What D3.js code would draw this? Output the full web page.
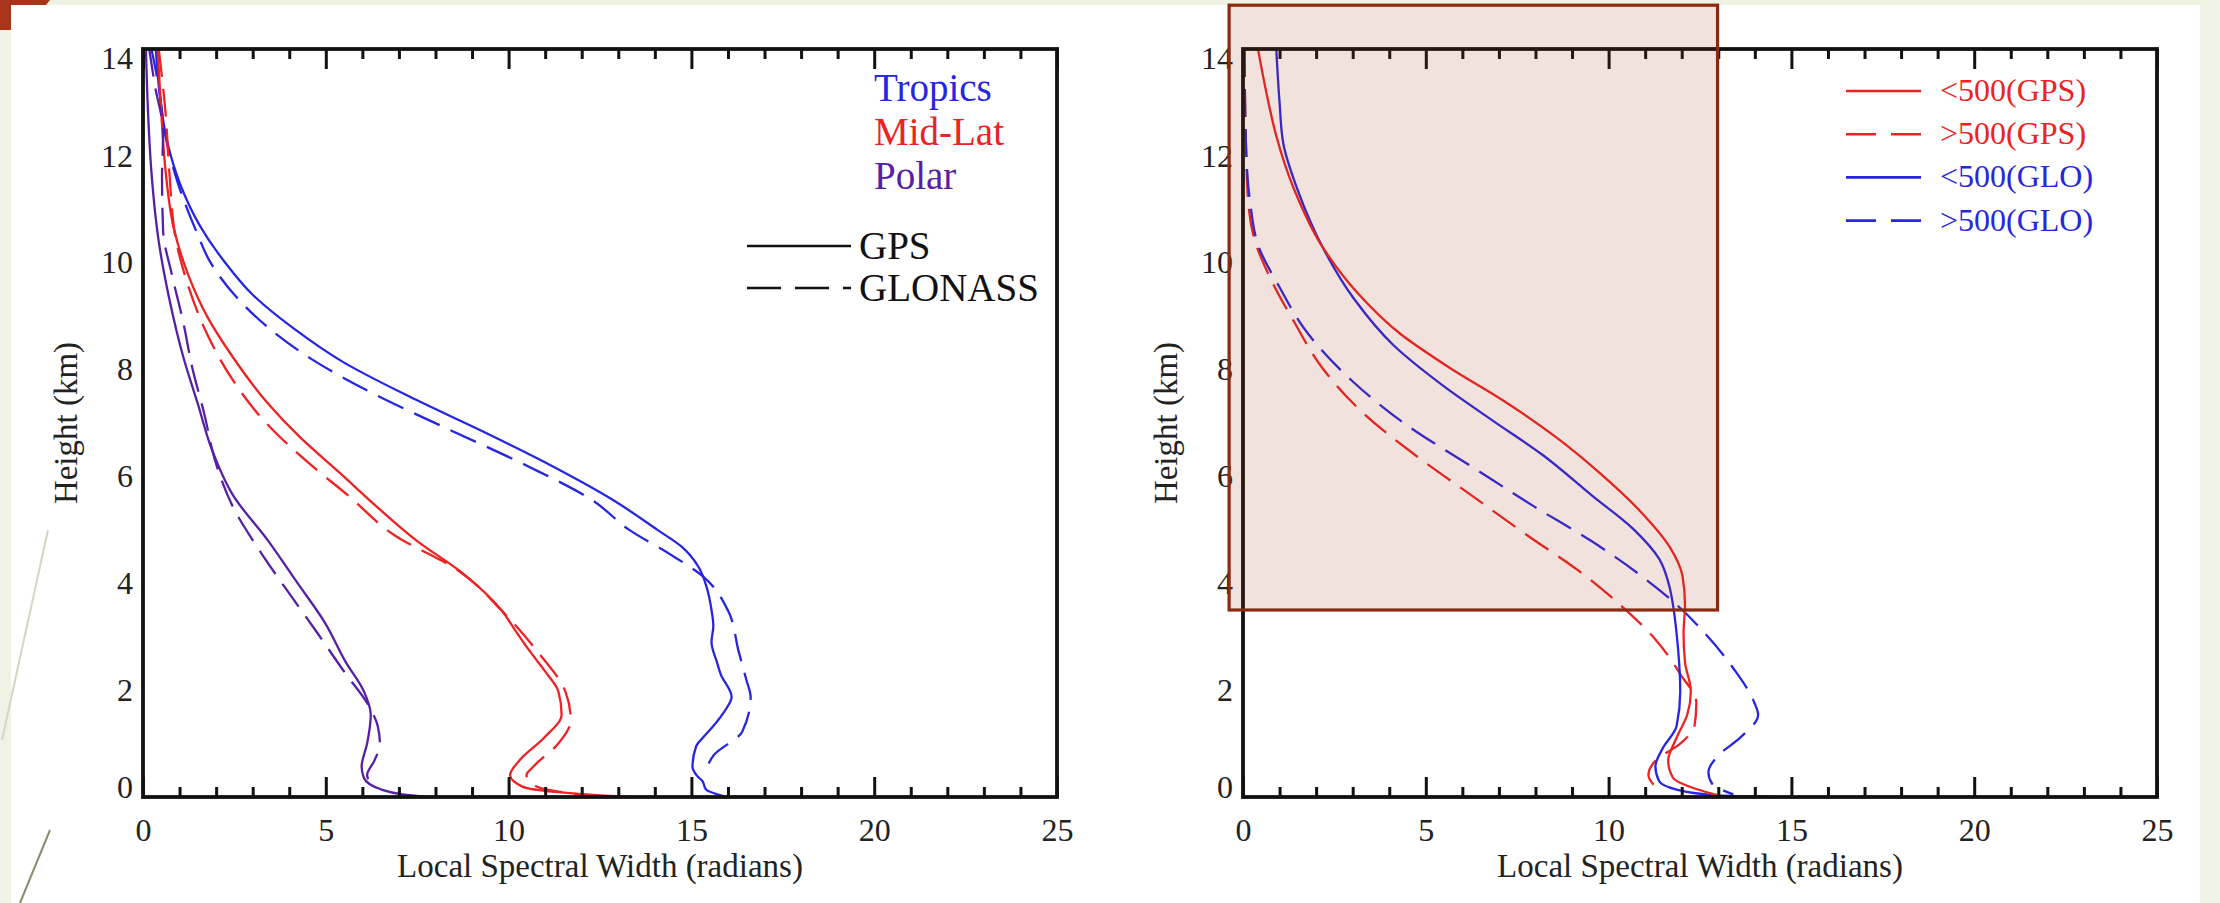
<!DOCTYPE html>
<html>
<head>
<meta charset="utf-8">
<script src="https://cdn.jsdelivr.net/npm/d3@7"></script>
<style>
  html, body { margin: 0; padding: 0; background: #eef3e3; }
  svg { display: block; }
  text { font-family: "Liberation Serif", "Times New Roman", serif; }
</style>
</head>
<body>
<svg id="fig" width="2220" height="903"></svg>
<script>
// ---------- axis definitions ----------
const xDomain = [0, 25];
const yDomain = [0, 14];
const xTickValues = [0, 5, 10, 15, 20, 25];
const xMinorValues = d3.range(0, 26).filter(v => v % 5 !== 0);
const yTickValues = [0, 2, 4, 6, 8, 10, 12, 14];
const xTitle = "Local Spectral Width (radians)";
const yTitle = "Height (km)";

// ---------- left panel: profiles by latitude band, [width, height km] ----------
const tropicsGPS = [[0.35,14],[0.45,13.2],[0.65,12.3],[1.0,11.5],[1.55,10.7],[2.25,10.0],[3.0,9.4],[4.1,8.78],[5.5,8.13],[7.3,7.49],[9.3,6.84],[11.2,6.19],[12.9,5.54],[14.07,5.0],[14.74,4.68],[15.2,4.3],[15.42,3.92],[15.55,3.5],[15.6,3.2],[15.55,2.9],[15.7,2.52],[15.8,2.3],[16.1,1.87],[15.9,1.6],[15.6,1.33],[15.3,1.1],[15.13,0.95],[15.03,0.57],[15.15,0.4],[15.3,0.3],[15.4,0.14],[15.9,0.01]];
const tropicsGLO = [[0.23,14],[0.43,13.3],[0.62,12.35],[0.95,11.5],[1.45,10.6],[1.85,10.0],[2.5,9.4],[3.4,8.8],[4.6,8.2],[6.3,7.55],[8.3,6.9],[10.5,6.2],[12.3,5.55],[13.3,5.0],[14.4,4.55],[15.3,4.14],[16.0,3.49],[16.29,2.73],[16.5,2.2],[16.62,1.87],[16.39,1.22],[15.62,0.79],[15.45,0.6]];
const midLatGPS = [[0.4,14],[0.5,12.8],[0.62,11.7],[0.85,10.62],[1.25,9.75],[1.75,9.0],[2.45,8.24],[3.4,7.38],[4.3,6.73],[5.36,6.08],[6.4,5.43],[7.5,4.79],[8.72,4.2],[9.81,3.49],[10.2,3.1],[10.58,2.73],[11.0,2.35],[11.36,1.98],[11.45,1.54],[10.97,1.11],[10.29,0.68],[10.04,0.41],[10.39,0.19],[11.36,0.09],[12.5,0.03],[13.3,0.0]];
const midLatGLO = [[0.43,14],[0.62,12.78],[0.72,11.7],[0.91,10.4],[1.25,9.54],[1.75,8.67],[2.45,7.81],[3.3,7.05],[4.45,6.3],[5.6,5.65],[6.9,4.89],[8.6,4.25],[9.81,3.49],[10.78,2.73],[11.55,1.98],[11.7,1.44],[11.36,1.0],[10.68,0.57],[10.49,0.41],[10.78,0.19],[12.1,0.03]];
const polarGPS = [[0.08,14],[0.14,12.78],[0.23,11.7],[0.43,10.4],[0.72,9.32],[1.1,8.24],[1.49,7.38],[1.88,6.51],[2.46,5.65],[3.43,4.79],[4.2,4.03],[4.97,3.27],[5.55,2.52],[6.04,1.98],[6.23,1.54],[6.13,1.0],[5.98,0.57],[6.04,0.36],[6.52,0.14],[7.1,0.05],[7.78,0.0]];
const polarGLO = [[0.17,14],[0.33,13.3],[0.55,12.45],[0.52,11.6],[0.55,10.6],[0.8,9.75],[1.1,8.89],[1.35,8.03],[1.68,7.16],[1.97,6.3],[2.46,5.43],[3.23,4.57],[4.0,3.81],[4.78,3.06],[5.55,2.3],[6.13,1.76],[6.42,1.33],[6.48,1.0],[6.33,0.68],[6.13,0.41],[6.3,0.2]];

// ---------- right panel: profiles split at 500 ----------
const lt500GPS = [[0.41,14],[0.68,13.05],[0.9,12.4],[1.4,11.37],[2.17,10.3],[3.14,9.43],[4.3,8.67],[5.66,8.03],[7.21,7.38],[8.57,6.73],[9.73,6.08],[10.89,5.33],[11.67,4.68],[12.02,4.14],[12.09,3.6],[12.05,3.06],[12.09,2.52],[12.25,1.98],[12.15,1.54],[11.86,1.11],[11.63,0.68],[11.76,0.36],[12.44,0.14],[13.0,0.03]];
const gt500GPS = [[0.04,14],[0.08,12.24],[0.14,11.16],[0.33,10.4],[0.72,9.75],[1.4,8.89],[2.17,8.03],[3.33,7.16],[4.69,6.41],[6.24,5.65],[7.79,4.89],[9.15,4.25],[10.31,3.6],[11.28,2.95],[11.96,2.3],[12.4,1.76],[12.35,1.33],[11.96,1.0],[11.28,0.68],[11.09,0.41],[11.28,0.19]];
const lt500GLO = [[0.91,14],[1.0,13.0],[1.1,12.24],[1.49,11.37],[2.17,10.3],[3.04,9.32],[4.11,8.46],[5.47,7.7],[6.82,7.05],[8.18,6.41],[9.53,5.65],[10.7,5.0],[11.38,4.46],[11.67,3.92],[11.76,3.6],[11.86,3.06],[11.96,1.98],[11.86,1.33],[11.47,0.9],[11.28,0.57],[11.38,0.3],[11.86,0.14],[13.0,0.03],[14.57,0.0]];
const gt500GLO = [[0.04,14],[0.08,12.24],[0.19,11.16],[0.43,10.3],[1.0,9.54],[1.78,8.67],[2.95,7.81],[4.5,6.95],[6.24,6.19],[7.98,5.43],[9.53,4.79],[10.89,4.14],[11.86,3.6],[12.64,3.06],[13.41,2.41],[13.99,1.76],[14.09,1.54],[13.6,1.11],[13.02,0.79],[12.73,0.46],[12.83,0.25],[13.41,0.05]];

// highlighted region of the right panel, in data units
const highlightX = [-0.38, 12.98];
const highlightY = [3.5, 14.82];

// ---------- colours ----------
const BLUE = "#2626e2", RED = "#ee2222", PURPLE = "#5620a6";

const leftSeries = [
  { data: tropicsGPS, color: BLUE, dashed: false },
  { data: tropicsGLO, color: BLUE, dashed: true },
  { data: midLatGPS, color: RED, dashed: false },
  { data: midLatGLO, color: RED, dashed: true },
  { data: polarGPS, color: PURPLE, dashed: false },
  { data: polarGLO, color: PURPLE, dashed: true }
];
const rightSeries = [
  { data: gt500GPS, color: RED, dashed: true },
  { data: gt500GLO, color: BLUE, dashed: true },
  { data: lt500GLO, color: BLUE, dashed: false },
  { data: lt500GPS, color: RED, dashed: false }
];
const regionLabels = ["Tropics", "Mid-Lat", "Polar"];
const regionColors = [BLUE, RED, PURPLE];
const systemLabels = ["GPS", "GLONASS"];
const splitLabels = ["<500(GPS)", ">500(GPS)", "<500(GLO)", ">500(GLO)"];
const splitColors = [RED, RED, BLUE, BLUE];
const splitDashed = [false, true, false, true];

// ---------- layout ----------
const W = 2220, H = 903;
const plotTop = 49, plotBottom = 797, plotW = 914;
const DASH = "28,12";

const svg = d3.select("#fig");

// slide backdrop and corner accent
svg.append("rect").attr("width", W).attr("height", H).attr("fill", "#eef3e3");
svg.append("polygon").attr("points", "0,0 50,0 26,30 0,30").attr("fill", "#a8351a");
svg.append("rect").attr("x", 11).attr("y", 5).attr("width", 2189).attr("height", H - 5).attr("fill", "#ffffff");
svg.append("line").attr("x1", 48).attr("y1", 530).attr("x2", 2).attr("y2", 740)
  .attr("stroke", "#d3d6c2").attr("stroke-width", 2);
svg.append("line").attr("x1", 50).attr("y1", 830).attr("x2", 20).attr("y2", 903)
  .attr("stroke", "#8d8b6b").attr("stroke-width", 2);

function drawPanel(x0, series) {
  const x = d3.scaleLinear().domain(xDomain).range([x0, x0 + plotW]);
  const y = d3.scaleLinear().domain(yDomain).range([plotBottom, plotTop]);
  const g = svg.append("g");

  // profile curves
  const line = d3.line().x(d => x(d[0])).y(d => y(d[1])).curve(d3.curveMonotoneY);
  series.forEach(s => {
    g.append("path").datum(s.data)
      .attr("d", line)
      .attr("fill", "none")
      .attr("stroke", s.color)
      .attr("stroke-width", 2.3)
      .attr("stroke-dasharray", s.dashed ? DASH : null);
  });

  // frame
  g.append("rect")
    .attr("x", x0).attr("y", plotTop)
    .attr("width", plotW).attr("height", plotBottom - plotTop)
    .attr("fill", "none").attr("stroke", "#111").attr("stroke-width", 3.8);

  // inward ticks on top and bottom edges
  function ticks(axisGen, ty, vals, size) {
    const a = g.append("g").attr("transform", `translate(0,${ty})`)
      .call(axisGen(x).tickValues(vals).tickSize(size).tickFormat(""));
    a.select(".domain").remove();
    a.selectAll("line").attr("stroke", "#111").attr("stroke-width", 3);
  }
  ticks(d3.axisTop, plotBottom, xMinorValues, 10);
  ticks(d3.axisTop, plotBottom, xTickValues, 20);
  ticks(d3.axisBottom, plotTop, xMinorValues, 10);
  ticks(d3.axisBottom, plotTop, xTickValues, 20);

  // x tick labels
  const xa = g.append("g").attr("transform", `translate(0,${plotBottom})`)
    .call(d3.axisBottom(x).tickValues(xTickValues).tickSize(0).tickPadding(21));
  xa.select(".domain").remove();
  xa.selectAll("text").attr("font-size", 32).attr("fill", "#222")
    .style("font-family", '"Liberation Serif", serif');

  // y tick labels (end labels tucked inside the frame height)
  const ya = g.append("g").attr("transform", `translate(${x0},0)`)
    .call(d3.axisLeft(y).tickValues(yTickValues).tickSize(0).tickPadding(10));
  ya.select(".domain").remove();
  ya.selectAll("text").attr("font-size", 32).attr("fill", "#222")
    .style("font-family", '"Liberation Serif", serif')
    .attr("transform", d => d === yDomain[1] ? "translate(0,9)" : d === yDomain[0] ? "translate(0,-10)" : null);

  // axis titles
  g.append("text")
    .attr("x", x0 + plotW / 2).attr("y", 877)
    .attr("text-anchor", "middle").attr("font-size", 33).attr("fill", "#222")
    .text(xTitle);
  g.append("text")
    .attr("transform", `translate(${x0 - 66},${(plotTop + plotBottom) / 2}) rotate(-90)`)
    .attr("text-anchor", "middle").attr("font-size", 33).attr("fill", "#222")
    .text(yTitle);

  return { x, y, g };
}

// ---------- left panel ----------
const left = drawPanel(143, leftSeries);
regionLabels.forEach((t, i) => {
  left.g.append("text")
    .attr("x", 874).attr("y", 101 + i * 44)
    .attr("font-size", 39).attr("fill", regionColors[i])
    .text(t);
});
systemLabels.forEach((t, i) => {
  const yy = 246 + i * 42;
  left.g.append("line")
    .attr("x1", 747).attr("x2", 851).attr("y1", yy).attr("y2", yy)
    .attr("stroke", "#111").attr("stroke-width", 2.6)
    .attr("stroke-dasharray", i === 1 ? "34,14" : null);
  left.g.append("text")
    .attr("x", 859).attr("y", yy + 13)
    .attr("font-size", 39).attr("fill", "#111")
    .text(t);
});

// ---------- right panel ----------
const right = drawPanel(1243, rightSeries);
splitLabels.forEach((t, i) => {
  const yy = 91 + i * 43.2;
  right.g.append("line")
    .attr("x1", 1846).attr("x2", 1921).attr("y1", yy).attr("y2", yy)
    .attr("stroke", splitColors[i]).attr("stroke-width", 2.6)
    .attr("stroke-dasharray", splitDashed[i] ? "30,15" : null);
  right.g.append("text")
    .attr("x", 1940).attr("y", yy + 10)
    .attr("font-size", 32).attr("fill", splitColors[i])
    .text(t);
});

// translucent highlight over the upper part of the right panel
svg.append("rect")
  .attr("x", right.x(highlightX[0]))
  .attr("y", right.y(highlightY[1]))
  .attr("width", right.x(highlightX[1]) - right.x(highlightX[0]))
  .attr("height", right.y(highlightY[0]) - right.y(highlightY[1]))
  .attr("fill", "#a33c1c").attr("fill-opacity", 0.15)
  .attr("stroke", "#8a2a10").attr("stroke-width", 3.2);
</script>
</body>
</html>
